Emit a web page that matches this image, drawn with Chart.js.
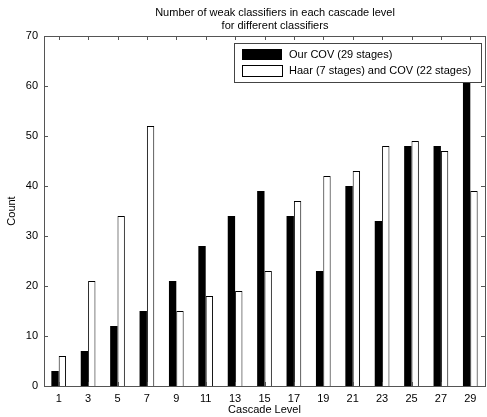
<!DOCTYPE html>
<html>
<head>
<meta charset="utf-8">
<script src="https://cdn.jsdelivr.net/npm/chart.js@4"></script>
<style>
  body { margin: 0; background: #fff; }
  #wrap { width: 487px; height: 417px; }
</style>
</head>
<body>
<div id="wrap"><canvas id="myChart" width="487" height="417"></canvas></div>
<script>
// cascade levels on the x axis
const levels = ["1", "3", "5", "7", "9", "11", "13", "15", "17", "19", "21", "23", "25", "27", "29"];

// weak classifier counts per level
const ourCov = [3, 7, 12, 15, 21, 28, 34, 39, 34, 23, 40, 33, 48, 48, 62];
const haarCov = [6, 21, 34, 52, 15, 18, 19, 23, 37, 42, 43, 48, 49, 47, 39];

const seriesNames = ["Our COV (29 stages)", "Haar (7 stages) and COV (22 stages)"];
const titleLines = ["Number of weak classifiers in each cascade level", "for different classifiers"];
const yTicks = [0, 10, 20, 30, 40, 50, 60, 70];

const FONT = "11px 'Liberation Sans', Arial, sans-serif";
const AXIS = "#555";

// matlab style box + inward tick marks
const framePlugin = {
  id: "frame",
  afterDatasetsDraw(chart) {
    const ctx = chart.ctx;
    const a = chart.chartArea;
    const x = chart.scales.x;
    const y = chart.scales.y;
    ctx.save();
    ctx.strokeStyle = AXIS;
    ctx.lineWidth = 1;
    ctx.beginPath();
    for (let i = 0; i < levels.length; i++) {
      const px = Math.round(x.getPixelForValue(i)) + 0.5;
      ctx.moveTo(px, a.bottom);
      ctx.lineTo(px, a.bottom - 4);
      ctx.moveTo(px, a.top);
      ctx.lineTo(px, a.top + 4);
    }
    yTicks.forEach((v) => {
      const py = Math.round(y.getPixelForValue(v)) + 0.5;
      ctx.moveTo(a.left, py);
      ctx.lineTo(a.left + 4, py);
      ctx.moveTo(a.right, py);
      ctx.lineTo(a.right - 4, py);
    });
    ctx.stroke();
    ctx.strokeRect(Math.round(a.left) + 0.5, Math.round(a.top) + 0.5,
      Math.round(a.right - a.left), Math.round(a.bottom - a.top));

    // legend box drawn over the bars
    const lx = 234.5, ly = 43.5, lw = 247, lh = 39;
    ctx.fillStyle = "#fff";
    ctx.fillRect(lx, ly, lw, lh);
    ctx.strokeStyle = "#444";
    ctx.strokeRect(lx, ly, lw, lh);
    ctx.fillStyle = "#000";
    ctx.fillRect(242, 49, 40, 11);
    ctx.fillStyle = "#fff";
    ctx.fillRect(242, 65, 40, 11);
    ctx.strokeStyle = "#000";
    ctx.strokeRect(242.5, 65.5, 40, 11);
    ctx.fillStyle = "#000";
    ctx.font = FONT;
    ctx.textBaseline = "middle";
    ctx.textAlign = "left";
    ctx.fillText(seriesNames[0], 289, 55);
    ctx.fillText(seriesNames[1], 289, 71);

    // title
    ctx.textAlign = "center";
    ctx.fillText(titleLines[0], 275, 13);
    ctx.fillText(titleLines[1], 275, 26);
    ctx.restore();
  },
};

const data = {
  labels: levels,
  datasets: [
    {
      label: seriesNames[0],
      data: ourCov,
      backgroundColor: "#000",
      borderColor: "#000",
      borderWidth: 0,
    },
    {
      label: seriesNames[1],
      data: haarCov,
      backgroundColor: "#fff",
      borderColor: "#000",
      borderWidth: 1,
    },
  ],
};

const config = {
  type: "bar",
  data,
  options: {
    responsive: false,
    animation: false,
    categoryPercentage: 0.5,
    barPercentage: 1,
    layout: { padding: { left: 0, right: 2, top: 36, bottom: 0 } },
    plugins: {
      legend: { display: false },
      title: { display: false },
      tooltip: { enabled: false },
    },
    scales: {
      x: {
        offset: true,
        grid: { display: false, drawTicks: false },
        border: { display: false },
        ticks: { color: "#000", font: { family: "'Liberation Sans', Arial", size: 11 }, padding: 6, maxRotation: 0 },
        title: { display: true, text: "Cascade Level", color: "#000", font: { family: "'Liberation Sans', Arial", size: 11 }, padding: 0 },
        afterFit(scale) { scale.height = 31; },
      },
      y: {
        min: 0,
        max: 70,
        grid: { display: false, drawTicks: false },
        border: { display: false },
        ticks: { stepSize: 10, color: "#000", font: { family: "'Liberation Sans', Arial", size: 11 }, padding: 6 },
        title: { display: true, text: "Count", color: "#000", font: { family: "'Liberation Sans', Arial", size: 11 }, padding: { top: 5, bottom: 0 } },
        afterFit(scale) { scale.width = 44; },
      },
    },
  },
  plugins: [framePlugin],
};

let myChart = new Chart(document.getElementById("myChart"), config);
</script>
</body>
</html>
